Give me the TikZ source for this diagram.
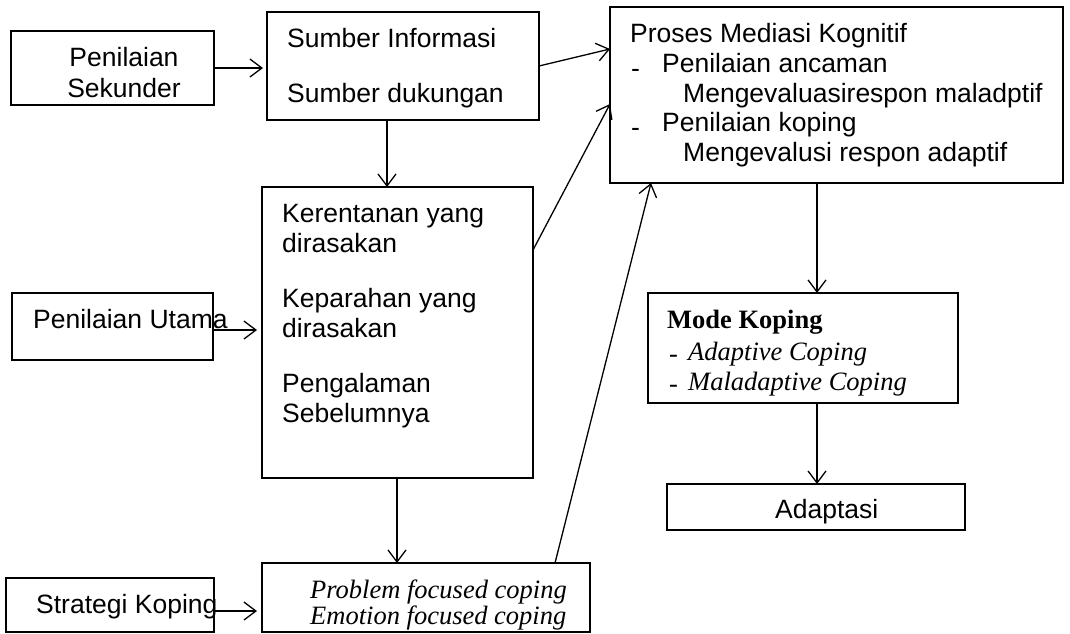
\documentclass[tikz,border=0pt]{standalone}
\usepackage{fontspec}
\setmainfont{Liberation Sans}
\newfontfamily\tnr{Liberation Serif}
\usetikzlibrary{arrows.meta}
\newcommand\mybox[5]{\node[box,minimum width=#4pt,minimum height=#5pt] (#1) at (#2,#3) {};}
\begin{document}
\begin{tikzpicture}[x=1pt,y=-1pt,
  box/.style={draw,line width=1.3pt,inner sep=0pt,outer sep=0pt,anchor=north west},
  arr/.style={line width=1.3pt,-{Straight Barb[length=12pt,width=18pt,line width=1.3pt]}},
  lbl/.style={anchor=base west,inner sep=0pt,font=\fontsize{26.5}{30}\selectfont},
  lblc/.style={anchor=base,inner sep=0pt,font=\fontsize{26.5}{30}\selectfont},
  ilbl/.style={anchor=base west,inner sep=0pt,font=\fontsize{26.5}{30}\selectfont\tnr\itshape},
  blbl/.style={anchor=base west,inner sep=0pt,font=\fontsize{26.5}{30}\selectfont\tnr\bfseries},
  dlbl/.style={anchor=base west,inner sep=0pt,font=\fontsize{26.5}{30}\selectfont\tnr}]
\useasboundingbox (0,0) rectangle (1070,633);
% boxes
\mybox{ps}{11}{31}{203}{74}
\mybox{sb}{267}{12}{272}{108}
\mybox{pm}{610}{7}{453}{176}
\mybox{kr}{262}{187}{271}{291}
\mybox{pu}{12}{293}{201}{67}
\mybox{mk}{648}{293}{310}{110}
\mybox{ad}{667}{484}{298}{46}
\mybox{sk}{6}{578}{208}{54}
\mybox{pf}{262}{563}{328}{69}
% texts
\node[lblc] (t1) at (124,66) {Penilaian};
\node[lblc] (t2) at (124,97) {Sekunder};
\node[lbl] (t3) at (287,47) {Sumber Informasi};
\node[lbl] (t4) at (287,102) {Sumber dukungan};
\node[lbl] (t5) at (630,42) {Proses Mediasi Kognitif};
\node[lbl] (t6a) at (631,77) {-};
\node[lbl] (t6) at (662,72) {Penilaian ancaman};
\node[lbl] (t7) at (683,102) {Mengevaluasirespon maladptif};
\node[lbl] (t8a) at (631,136) {-};
\node[lbl] (t8) at (662,131) {Penilaian koping};
\node[lbl] (t9) at (683,161) {Mengevalusi respon adaptif};
\node[lbl] (t10) at (282,222) {Kerentanan yang};
\node[lbl] (t11) at (282,252) {dirasakan};
\node[lbl] (t12) at (282,307) {Keparahan yang};
\node[lbl] (t13) at (282,337) {dirasakan};
\node[lbl] (t14) at (282,392) {Pengalaman};
\node[lbl] (t15) at (282,422) {Sebelumnya};
\node[lbl] (t16) at (33,328) {Penilaian Utama};
\node[lbl] (t17) at (36,613) {Strategi Koping};
\node[ilbl] (t18) at (310,598) {Problem focused coping};
\node[ilbl] (t19) at (310,624) {Emotion focused coping};
\node[blbl] (t20) at (667,328) {Mode Koping};
\node[dlbl] (t21a) at (669,362) {-};
\node[ilbl] (t21) at (688,360) {Adaptive Coping};
\node[dlbl] (t22a) at (669,392) {-};
\node[ilbl] (t22) at (688,390) {Maladaptive Coping};
\node[lbl] (t23) at (775,518) {Adaptasi};
% connectors
\draw[arr,shorten >=4pt] (ps.east) -- (ps.east -| sb.west);
\draw[arr] (sb.east) -- ([yshift=-42pt]pm.north west);
\draw[arr] ([xshift=120pt]sb.south west) -- ([xshift=125pt]kr.north west);
\draw[arr] ([yshift=-63pt]kr.north east) -- ([yshift=-97pt]pm.north west);
\draw[arr,shorten >=5pt] ([yshift=-37pt]pu.north east) -- ([yshift=-143pt]kr.north west);
\draw[arr] ([xshift=135pt]kr.south west) -- ([xshift=135pt]pf.north west);
\draw[arr,shorten >=5pt] ([yshift=-33pt]sk.north east) -- ([yshift=-48pt]pf.north west);
\draw[arr] ([xshift=293pt]pf.north west) -- ([xshift=41pt]pm.south west);
\draw[arr] ([xshift=207pt]pm.south west) -- ([xshift=169pt]mk.north west);
\draw[arr] ([xshift=169pt]mk.south west) -- ([xshift=150pt]ad.north west);
\end{tikzpicture}
\end{document}
